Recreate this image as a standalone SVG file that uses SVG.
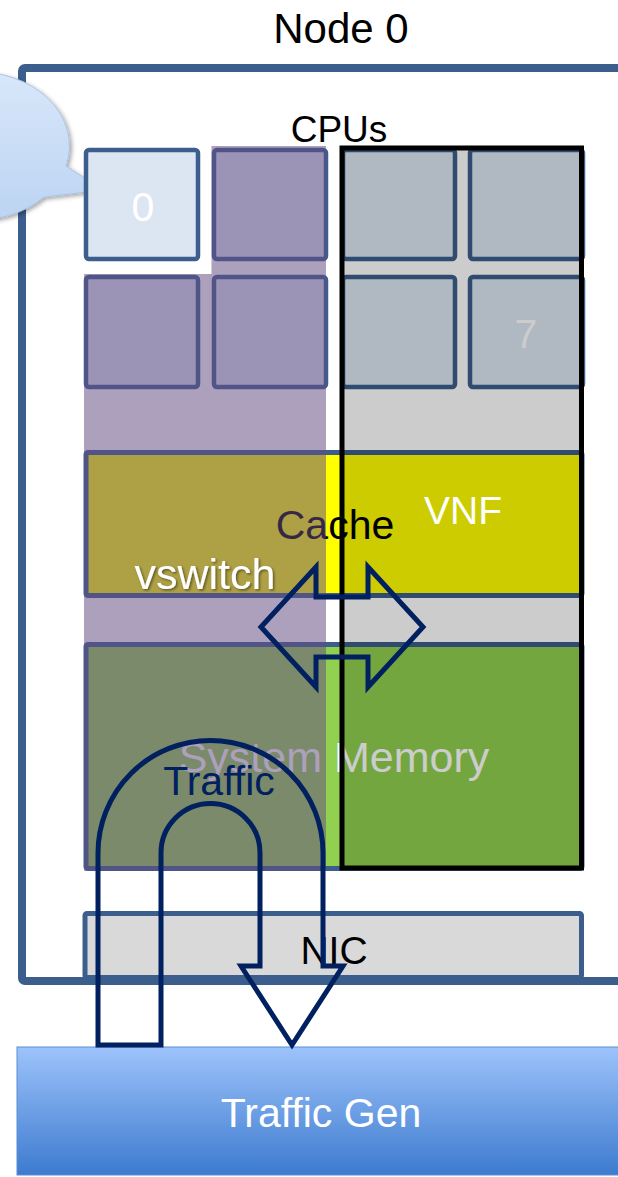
<svg xmlns="http://www.w3.org/2000/svg" width="618" height="1177" viewBox="0 0 618 1177">
  <defs>
    <style>
      .t { font-family: "Liberation Sans", Arial, sans-serif; text-anchor: middle; }
      .cpu { fill: #dce6f2; stroke: #3b5e8c; stroke-width: 4.5; }
      .bar { stroke: #3b5e8c; stroke-width: 5; }
      .flow { fill: none; stroke: #002060; stroke-width: 5; stroke-linejoin: miter; }
    </style>
    <linearGradient id="genGrad" x1="0" y1="0" x2="0" y2="1">
      <stop offset="0" stop-color="#9dc3fb"/>
      <stop offset="1" stop-color="#3d7bcf"/>
    </linearGradient>
    <linearGradient id="bubbleGrad" x1="0" y1="0" x2="0" y2="1">
      <stop offset="0" stop-color="#d8e7fa"/>
      <stop offset="1" stop-color="#bcd4f2"/>
    </linearGradient>
    <filter id="shadow" x="-20%" y="-20%" width="150%" height="150%">
      <feDropShadow dx="2" dy="2" stdDeviation="2" flood-color="#000" flood-opacity="0.35"/>
    </filter>
    <filter id="txtShadow" x="-10%" y="-20%" width="120%" height="150%">
      <feDropShadow dx="1.5" dy="1.5" stdDeviation="1.2" flood-color="#000" flood-opacity="0.45"/>
    </filter>
  </defs>

  <rect width="618" height="1177" fill="#ffffff"/>

  <g id="node0">
    <rect x="22" y="68" width="640" height="913" rx="3" fill="none" stroke="#3b5e8c" stroke-width="8"/>
    <text class="t" x="341" y="43" font-size="42" fill="#000">Node 0</text>
  </g>

  <g id="callout">
    <path d="M 66,166 L 103,190 L 44,197 A 92 74 0 1 1 66,166 Z" fill="url(#bubbleGrad)" stroke="#a9c3e6" stroke-width="1" filter="url(#shadow)"/>
  </g>

  <g id="cpus">
    <text class="t" x="339" y="142" font-size="37" fill="#000">CPUs</text>
    <rect id="cpu0" class="cpu" x="86" y="150" width="112" height="109" rx="3"/>
    <rect id="cpu1" class="cpu" x="214" y="150" width="112" height="109" rx="3"/>
    <rect id="cpu2" class="cpu" x="343" y="150" width="112" height="109" rx="3"/>
    <rect id="cpu3" class="cpu" x="470" y="150" width="113" height="109" rx="3"/>
    <rect id="cpu4" class="cpu" x="86" y="277" width="112" height="110" rx="3"/>
    <rect id="cpu5" class="cpu" x="214" y="277" width="112" height="110" rx="3"/>
    <rect id="cpu6" class="cpu" x="343" y="277" width="112" height="110" rx="3"/>
    <rect id="cpu7" class="cpu" x="470" y="277" width="113" height="110" rx="3"/>
    <text class="t" x="526" y="348" font-size="41" fill="#ffffff">7</text>
  </g>

  <g id="cache">
    <rect class="bar" x="86" y="452.5" width="496" height="143" rx="2" fill="#ffff00"/>
    <text class="t" x="335" y="539" font-size="41" fill="#000">Cache</text>
  </g>

  <g id="memory">
    <rect class="bar" x="86" y="644.5" width="496" height="224" rx="2" fill="#92d050"/>
    <text class="t" x="334" y="772" font-size="43" fill="#ffffff">System Memory</text>
  </g>

  <g id="vswitch">
    <path d="M 211.5,146 L 326,146 L 326,871 L 84,871 L 84,274 L 211.5,274 Z" fill="#654b83" fill-opacity="0.53"/>
    <text class="t" x="205" y="589" font-size="43" fill="#ffffff" filter="url(#txtShadow)">vswitch</text>
  </g>

  <g id="vnf">
    <rect x="342" y="148" width="239.5" height="720" fill="#000" fill-opacity="0.2" stroke="#000" stroke-width="5"/>
    <text class="t" x="463" y="524" font-size="39" fill="#ffffff">VNF</text>
  </g>

  <g id="cpu0-label">
    <text class="t" x="143" y="221" font-size="41" fill="#ffffff">0</text>
  </g>

  <g id="nic">
    <rect x="85" y="913.5" width="496.5" height="64" rx="2" fill="#d9d9d9" stroke="#3b5e8c" stroke-width="5"/>
    <text class="t" x="334" y="964" font-size="39" fill="#000">NIC</text>
  </g>

  <g id="trafficgen">
    <rect x="17" y="1047" width="610" height="128" fill="url(#genGrad)" stroke="#5b8ed6" stroke-width="1"/>
    <text class="t" x="321" y="1127" font-size="41" fill="#ffffff">Traffic Gen</text>
  </g>

  <g id="connectors">
    <path class="flow" d="M 261,627 L 316,567 L 316,597 L 368,597 L 368,567 L 423,627 L 368,687 L 368,657 L 316,657 L 316,687 Z"/>
    <path class="flow" d="M 98,1045 L 98,853 A 112.5 112.5 0 0 1 323,853 L 323,966 L 343,966 L 292,1045 L 241,966 L 260,966 L 260,853 A 49.5 49.5 0 0 0 161,853 L 161,1045 Z"/>
    <text class="t" x="219" y="795" font-size="41" fill="#002060">Traffic</text>
  </g>
</svg>
